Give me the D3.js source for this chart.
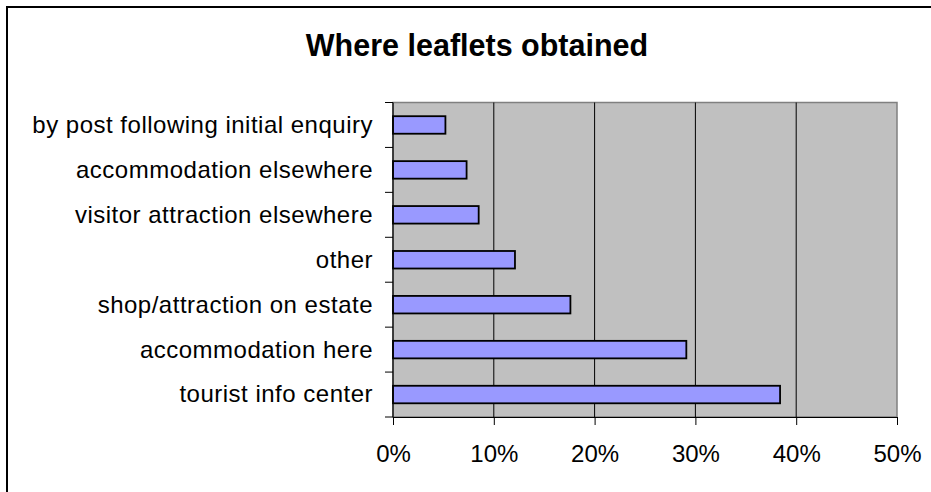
<!DOCTYPE html>
<html>
<head>
<meta charset="utf-8">
<script src="https://cdn.jsdelivr.net/npm/d3@7"></script>
<style>
  body { margin: 0; background: #fff; }
  svg { display: block; font-family: Arial, "Liberation Sans", sans-serif; }
</style>
</head>
<body>
<svg id="chart" width="931" height="492"></svg>
<script>
// values, top row first
const categories = [
  'by post following initial enquiry',
  'accommodation elsewhere',
  'visitor attraction elsewhere',
  'other',
  'shop/attraction on estate',
  'accommodation here',
  'tourist info center'
];
const shares = [5.2, 7.3, 8.5, 12.1, 17.6, 29.1, 38.4];
const xTicks = [0, 10, 20, 30, 40, 50];
const chartTitle = 'Where leaflets obtained';

const svg = d3.select('#chart');
const plot = {left: 393, top: 102.5, right: 897, bottom: 417};

// outer frame runs off the right and bottom edges
svg.append('rect')
  .attr('x', 7).attr('y', 7)
  .attr('width', 960).attr('height', 520)
  .attr('fill', 'none').attr('stroke', '#000').attr('stroke-width', 2);

svg.append('text')
  .attr('x', 477).attr('y', 56)
  .attr('text-anchor', 'middle')
  .attr('font-size', 30.5).attr('font-weight', 'bold')
  .text(chartTitle);

const x = d3.scaleLinear().domain([0, 50]).range([plot.left, plot.right]);
const y = d3.scaleBand().domain(categories)
  .range([plot.top, plot.bottom])
  .paddingInner(0.61).paddingOuter(0.305);

svg.append('rect')
  .attr('x', plot.left).attr('y', plot.top)
  .attr('width', plot.right - plot.left).attr('height', plot.bottom - plot.top)
  .attr('fill', '#c0c0c0').attr('stroke', '#808080').attr('stroke-width', 1.5);

// gridlines
svg.append('g').selectAll('line')
  .data(xTicks.slice(1, -1))
  .join('line')
  .attr('x1', d => x(d)).attr('x2', d => x(d))
  .attr('y1', plot.top).attr('y2', plot.bottom)
  .attr('stroke', '#000').attr('stroke-width', 1);

// bars
svg.append('g').selectAll('rect')
  .data(categories)
  .join('rect')
  .attr('x', x(0))
  .attr('y', d => y(d))
  .attr('width', (d, i) => x(shares[i]) - x(0))
  .attr('height', y.bandwidth())
  .attr('fill', '#9999ff')
  .attr('stroke', '#000').attr('stroke-width', 1.8);

// x axis
const xAxis = svg.append('g')
  .attr('transform', `translate(0,${plot.bottom})`)
  .call(d3.axisBottom(x).tickValues(xTicks).tickFormat(d => d + '%')
    .tickSize(8).tickSizeOuter(0).tickPadding(20));
xAxis.select('.domain').attr('stroke', '#000').attr('stroke-width', 1.2);
xAxis.selectAll('.tick line').attr('stroke', '#000');
xAxis.selectAll('text')
  .attr('font-size', 24).attr('fill', '#000')
  .attr('font-family', 'Arial, "Liberation Sans", sans-serif');

// y axis: ticks sit on the band boundaries, labels centred on the bars
const step = y.step();
const boundaries = d3.range(categories.length + 1).map(i => plot.top + i * step);
const yAxis = svg.append('g');
yAxis.append('line')
  .attr('x1', plot.left).attr('x2', plot.left)
  .attr('y1', plot.top).attr('y2', plot.bottom)
  .attr('stroke', '#000').attr('stroke-width', 1.2);
yAxis.selectAll('line.tick')
  .data(boundaries)
  .join('line')
  .attr('class', 'tick')
  .attr('x1', plot.left - 8).attr('x2', plot.left)
  .attr('y1', d => d).attr('y2', d => d)
  .attr('stroke', '#000');
yAxis.selectAll('text')
  .data(categories)
  .join('text')
  .attr('x', 373)
  .attr('y', d => y(d) + y.bandwidth() / 2)
  .attr('dy', '0.33em')
  .attr('text-anchor', 'end')
  .attr('font-size', 24)
  .attr('letter-spacing', 0.5)
  .text(d => d);
</script>
</body>
</html>
